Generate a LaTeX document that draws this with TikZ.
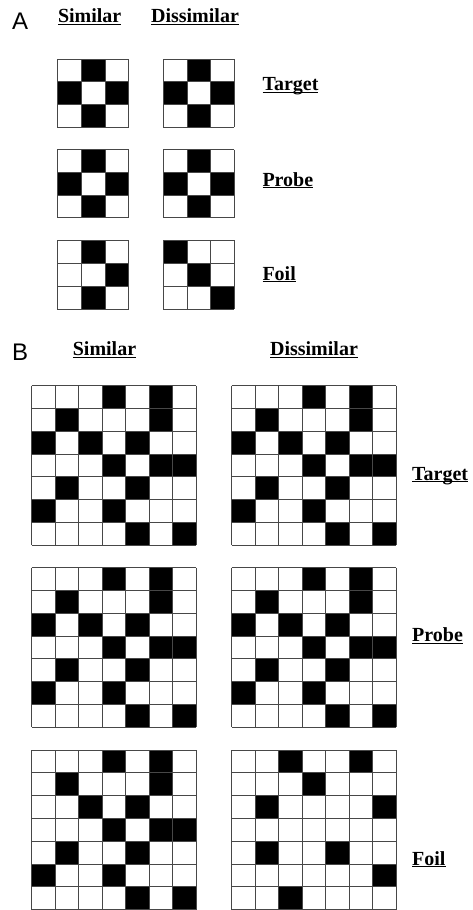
\documentclass[tikz,border=0pt]{standalone}
\usepackage{fontspec}
\setmainfont{Liberation Serif}
\newfontfamily\panelfont{Liberation Sans}
\usetikzlibrary{positioning}
\tikzset{
    cellline/.style={draw=black!72, line width=0.75pt},
    cellfill/.style={fill=black},
    heading/.style={
        anchor=base, inner sep=0pt,
        font=\fontsize{20}{24}\selectfont\bfseries
    },
    rowlabel/.style={
        anchor=base west, inner sep=0pt,
        font=\fontsize{20}{24}\selectfont\bfseries
    },
    panel/.style={
        anchor=base west, inner sep=0pt,
        font=\panelfont\fontsize{24}{28}\selectfont
    }
}
% underlined label text
\newcommand{\ultext}[1]{\setbox0\hbox{#1}\rlap{\rule[-2.4pt]{\wd0}{1.3pt}}\box0}
% grid: x0, y0, size, cell width, cell height, black cells (col/row)
\newcommand{\drawpattern}[6]{%
  \begin{scope}[shift={(#1,#2)}]
    \foreach \c/\r in {#6}
      \fill[cellfill] (\c*#4,\r*#5) rectangle ++(#4,#5);
    \foreach \i in {0,...,#3} {
      \draw[cellline] (\i*#4,0) -- (\i*#4,#3*#5);
      \draw[cellline] (0,\i*#5) -- (#3*#4,\i*#5);
    }
  \end{scope}}

\begin{document}
\begin{tikzpicture}[x=1pt,y=-1pt]
\useasboundingbox (0,0) rectangle (473,910);

% ---- Panel A ----
\node[panel] (pa) at (12,29.5) {A};
\node[heading] (asim) at (89.7,23) {\ultext{Similar}};
\node[heading] (adis) at (195,23) {\ultext{Dissimilar}};

\drawpattern{57.3}{59}{3}{23.8}{22.7}{1/0,0/1,2/1,1/2}
\drawpattern{163.3}{59}{3}{23.6}{22.7}{1/0,0/1,2/1,1/2}
\drawpattern{57.3}{149.7}{3}{23.8}{22.7}{1/0,0/1,2/1,1/2}
\drawpattern{163.3}{149.7}{3}{23.6}{22.7}{1/0,0/1,2/1,1/2}
\drawpattern{57.3}{240.3}{3}{23.8}{22.9}{1/0,2/1,1/2}
\drawpattern{163.3}{240.3}{3}{23.6}{22.9}{0/0,1/1,2/2}

\node[rowlabel] (atar) at (262.3,90.7) {\ultext{Target}};
\node[rowlabel] (apro) at (262.3,186) {\ultext{Probe}};
\node[rowlabel] (afoi) at (262.3,280) {\ultext{Foil}};

% ---- Panel B ----
\node[panel] (pb) at (12,360.5) {B};
\node[heading] (bsim) at (104.5,355.5) {\ultext{Similar}};
\node[heading] (bdis) at (314,355.5) {\ultext{Dissimilar}};

% targets
\drawpattern{31.7}{385.5}{7}{23.47}{22.8}{3/0,5/0,1/1,5/1,0/2,2/2,4/2,3/3,5/3,6/3,1/4,4/4,0/5,3/5,4/6,6/6}
\drawpattern{231.7}{385.5}{7}{23.47}{22.8}{3/0,5/0,1/1,5/1,0/2,2/2,4/2,3/3,5/3,6/3,1/4,4/4,0/5,3/5,4/6,6/6}
% probes
\drawpattern{31.7}{567.7}{7}{23.47}{22.76}{3/0,5/0,1/1,5/1,0/2,2/2,4/2,3/3,5/3,6/3,1/4,4/4,0/5,3/5,4/6,6/6}
\drawpattern{231.7}{567.7}{7}{23.47}{22.76}{3/0,5/0,1/1,5/1,0/2,2/2,4/2,3/3,5/3,6/3,1/4,4/4,0/5,3/5,4/6,6/6}
% foils
\drawpattern{31.7}{750}{7}{23.47}{22.8}{3/0,5/0,1/1,5/1,2/2,4/2,3/3,5/3,6/3,1/4,4/4,0/5,3/5,4/6,6/6}
\drawpattern{231.7}{750}{7}{23.47}{22.8}{2/0,5/0,3/1,1/2,6/2,1/4,4/4,6/5,2/6}

\node[rowlabel] (btar) at (412,480) {\ultext{Target}};
\node[rowlabel] (bpro) at (412,641.7) {\ultext{Probe}};
\node[rowlabel] (bfoi) at (412,865) {\ultext{Foil}};

\end{tikzpicture}
\end{document}
